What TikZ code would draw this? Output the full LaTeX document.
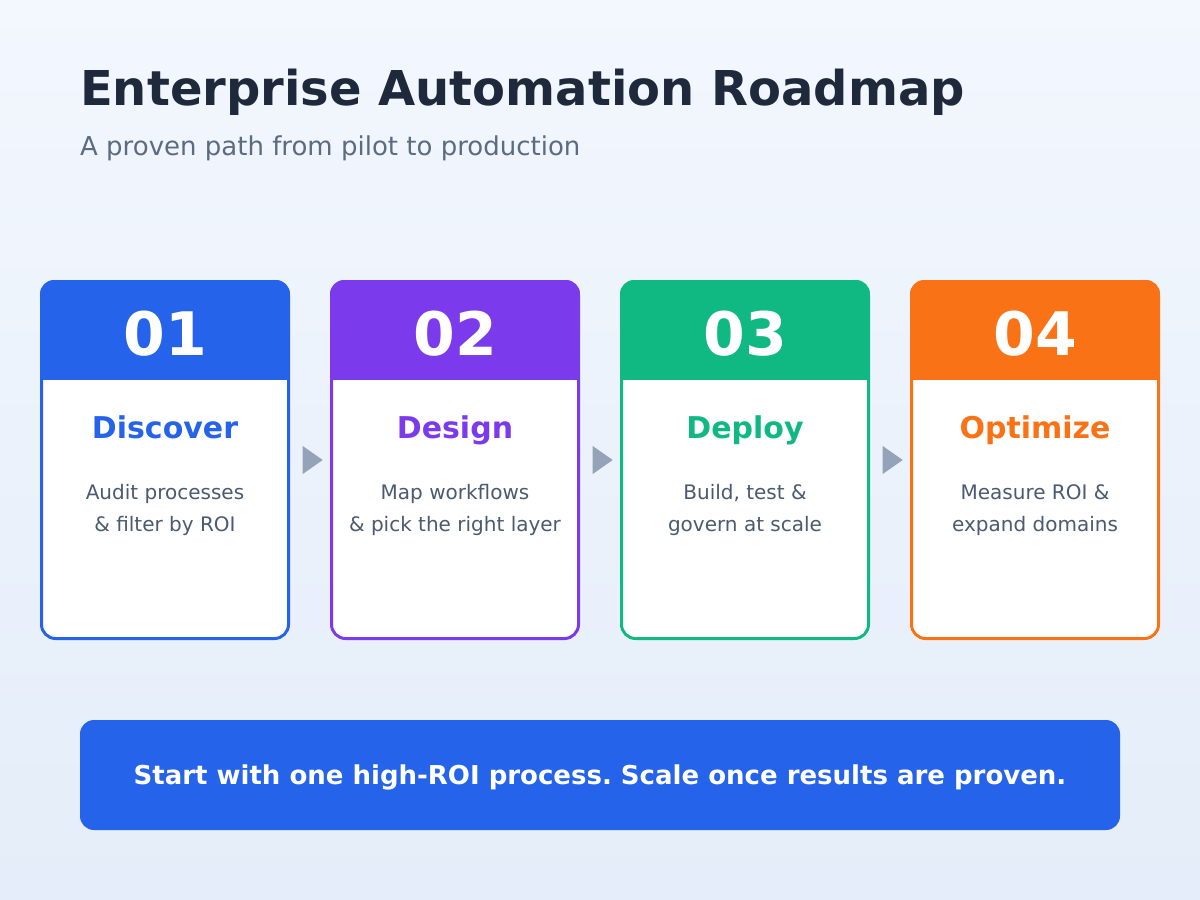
\documentclass[tikz,border=0pt]{standalone}
\usepackage{fontspec}
\setmainfont{DejaVu Sans}
\frenchspacing
\usetikzlibrary{shapes.geometric,calc}
\definecolor{bgtop}{HTML}{F3F7FE}
\definecolor{bgbot}{HTML}{E4EDF9}
\definecolor{cblue}{HTML}{2563EB}
\definecolor{cpurple}{HTML}{7C3AED}
\definecolor{cgreen}{HTML}{10B981}
\definecolor{corange}{HTML}{F97316}
\definecolor{titlec}{HTML}{1E293B}
\definecolor{subc}{HTML}{5B6B82}
\definecolor{descc}{HTML}{4B5A70}
\definecolor{arrowc}{HTML}{94A3B8}
\tikzset{
  cardbox/.style={draw=#1, line width=3pt, rounded corners=14pt, minimum width=247pt, minimum height=357pt, inner sep=0pt},
  numtext/.style={text=white, font=\fontsize{60}{62}\selectfont\bfseries},
  headtext/.style={text=#1, font=\fontsize{30}{34}\selectfont\bfseries},
  desctext/.style={text=descc, font=\fontsize{20}{32}\selectfont, align=center},
  tri/.style={isosceles triangle, isosceles triangle apex angle=70, fill=arrowc, inner sep=0pt, minimum height=20pt, minimum width=24pt, draw=none},
}
\begin{document}
\begin{tikzpicture}[x=1pt,y=-1pt]
\useasboundingbox (0,0) rectangle (1200,900);
\shade[top color=bgtop, bottom color=bgbot] (0,0) rectangle (1200,900);
\node[anchor=base west, text=titlec, font=\fontsize{48}{56}\selectfont\bfseries, inner sep=0pt] (title) at (80,105) {Enterprise Automation Roadmap};
\node[anchor=base west, text=subc, font=\fontsize{26}{30}\selectfont, inner sep=0pt] (sub) at (80,155) {A proven path from pilot to production};
\foreach \i/\x/\c/\num/\head/\la/\lb in {
  1/40/cblue/01/Discover/Audit processes/\& filter by ROI,
  2/330/cpurple/02/Design/Map workflows/\& pick the right layer,
  3/620/cgreen/03/Deploy/{Build, test \&}/govern at scale,
  4/910/corange/04/Optimize/Measure ROI \&/expand domains}{
  \begin{scope}
    \clip[rounded corners=14pt] (\x,280) rectangle ++(250,360);
    \fill[white] (\x,280) rectangle ++(250,360);
    \fill[\c] (\x,280) rectangle ++(250,100);
  \end{scope}
  \node[cardbox=\c] (c\i) at (\x+125,460) {};
  \node[numtext, anchor=base] (n\i) at (\x+125,355) {\num};
  \node[headtext=\c, anchor=base] (h\i) at (\x+125,438) {\head};
  \node[desctext, anchor=base] (d\i) at (\x+125,499) {\la};
  \node[desctext, anchor=base] (e\i) at (\x+125,531) {\lb};
}
\foreach \a/\b in {1/2,2/3,3/4}{
  \node[tri] (t\a) at ($(c\a.east)!0.5!(c\b.west)$) {};
}
\node[fill=cblue, rounded corners=14pt, minimum width=1040pt, minimum height=110pt, inner sep=0pt] (banner) at (600,775) {};
\node[text=white, font=\fontsize{26}{30}\selectfont\bfseries, anchor=base] (bt) at (600,784) {Start with one high-ROI process. Scale once results are proven.};
\end{tikzpicture}
\end{document}
